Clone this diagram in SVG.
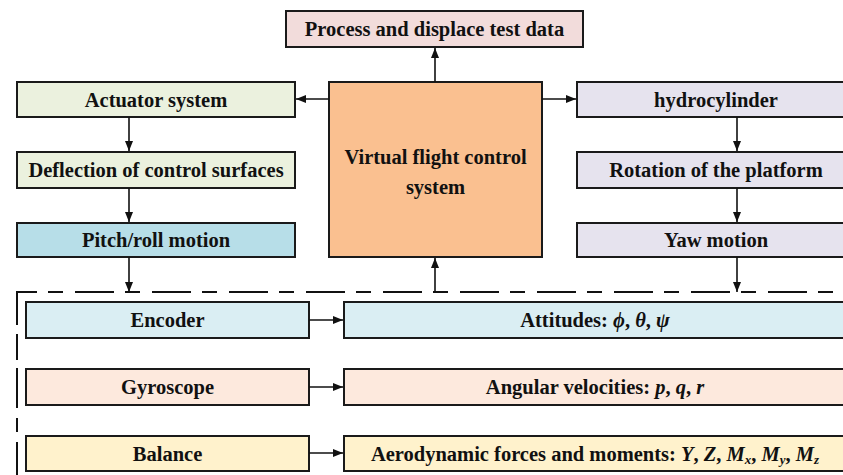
<svg xmlns="http://www.w3.org/2000/svg" width="843" height="475" viewBox="0 0 843 475">
<style>
.b{stroke:#1a1a1a;stroke-width:2}
.t{font-family:"Liberation Serif","Times New Roman",serif;font-weight:bold;font-size:20.5px;fill:#111;text-anchor:middle}
.i{font-style:italic}
.c{stroke:#111;stroke-width:1.6;fill:none}
.d{stroke:#111;stroke-width:2;fill:none}
</style>
<defs>
<marker id="ah" viewBox="0 0 10 10" refX="10" refY="5" markerWidth="10" markerHeight="10" markerUnits="userSpaceOnUse" orient="auto">
<path d="M0,1 L10,5 L0,9 Z" fill="#111"/>
</marker>
</defs>
<rect width="843" height="475" fill="#fff"/>
<g id="process"><rect class="b" x="286" y="11" width="297" height="36" fill="#F2DCDB"/><text class="t" x="434.5" y="36">Process and displace test data</text></g>
<g id="actuator"><rect class="b" x="17" y="82" width="278" height="35" fill="#EBF1DE"/><text class="t" x="156" y="107">Actuator system</text></g>
<g id="deflection"><rect class="b" x="17" y="152" width="278" height="36" fill="#EBF1DE"/><text class="t" x="156" y="177">Deflection of control surfaces</text></g>
<g id="pitch"><rect class="b" x="17" y="223" width="278" height="34" fill="#B7DEE8"/><text class="t" x="156" y="247">Pitch/roll motion</text></g>
<g id="virtual"><rect class="b" x="329" y="82" width="213" height="175" fill="#FAC090"/><text class="t" x="435.5" y="164">Virtual flight control</text><text class="t" x="435.5" y="194">system</text></g>
<g id="hydro"><rect class="b" x="577" y="82" width="270" height="35" fill="#E6E3EE"/><text class="t" x="716" y="107">hydrocylinder</text></g>
<g id="rotation"><rect class="b" x="577" y="152" width="270" height="36" fill="#E6E3EE"/><text class="t" x="716" y="177">Rotation of the platform</text></g>
<g id="yaw"><rect class="b" x="577" y="223" width="270" height="34" fill="#E6E3EE"/><text class="t" x="716" y="247">Yaw motion</text></g>
<g id="frame">
<line class="d" x1="17" y1="291" x2="17" y2="476" stroke-dasharray="34 9 26 8 40 10 14 10 40"/>
<line class="d" x1="16" y1="292" x2="850" y2="292" stroke-dasharray="39 11 15 12" stroke-dashoffset="18"/>
</g>
<g id="encoder"><rect class="b" x="26" y="302" width="283" height="36" fill="#DAEEF3"/><text class="t" x="167.5" y="327">Encoder</text></g>
<g id="attitudes"><rect class="b" x="344" y="302" width="504" height="36" fill="#DAEEF3"/><text class="t" x="595" y="327">Attitudes: <tspan class="i">ϕ</tspan>, <tspan class="i">θ</tspan>, <tspan class="i">ψ</tspan></text></g>
<g id="gyroscope"><rect class="b" x="26" y="369" width="283" height="36" fill="#FDE9DD"/><text class="t" x="167.5" y="394">Gyroscope</text></g>
<g id="angular"><rect class="b" x="344" y="369" width="504" height="36" fill="#FDE9DD"/><text class="t" x="595" y="394">Angular velocities: <tspan class="i">p</tspan>, <tspan class="i">q</tspan>, <tspan class="i">r</tspan></text></g>
<g id="balance"><rect class="b" x="26" y="436" width="283" height="35" fill="#FFF2CC"/><text class="t" x="167.5" y="461">Balance</text></g>
<g id="aero"><rect class="b" x="344" y="436" width="504" height="35" fill="#FFF2CC"/><text class="t" x="595" y="461">Aerodynamic forces and moments: <tspan class="i">Y</tspan>, <tspan class="i">Z</tspan>, <tspan class="i">M</tspan><tspan class="i" font-size="13" dy="3">x</tspan><tspan dy="-3">, </tspan><tspan class="i">M</tspan><tspan class="i" font-size="13" dy="3">y</tspan><tspan dy="-3">, </tspan><tspan class="i">M</tspan><tspan class="i" font-size="13" dy="3">z</tspan></text></g>
<g id="connectors">
<line class="c" x1="435" y1="82" x2="435" y2="48" marker-end="url(#ah)"/>
<line class="c" x1="329" y1="99" x2="296" y2="99" marker-end="url(#ah)"/>
<line class="c" x1="542" y1="99" x2="576" y2="99" marker-end="url(#ah)"/>
<line class="c" x1="129" y1="117" x2="129" y2="151" marker-end="url(#ah)"/>
<line class="c" x1="129" y1="188" x2="129" y2="222" marker-end="url(#ah)"/>
<line class="c" x1="737" y1="117" x2="737" y2="151" marker-end="url(#ah)"/>
<line class="c" x1="737" y1="188" x2="737" y2="222" marker-end="url(#ah)"/>
<line class="c" x1="129" y1="257" x2="129" y2="292" marker-end="url(#ah)"/>
<line class="c" x1="737" y1="257" x2="737" y2="292" marker-end="url(#ah)"/>
<line class="c" x1="435" y1="292" x2="435" y2="258" marker-end="url(#ah)"/>
<line class="c" x1="309" y1="320" x2="343" y2="320" marker-end="url(#ah)"/>
<line class="c" x1="309" y1="387" x2="343" y2="387" marker-end="url(#ah)"/>
<line class="c" x1="309" y1="453" x2="343" y2="453" marker-end="url(#ah)"/>
</g>
</svg>
